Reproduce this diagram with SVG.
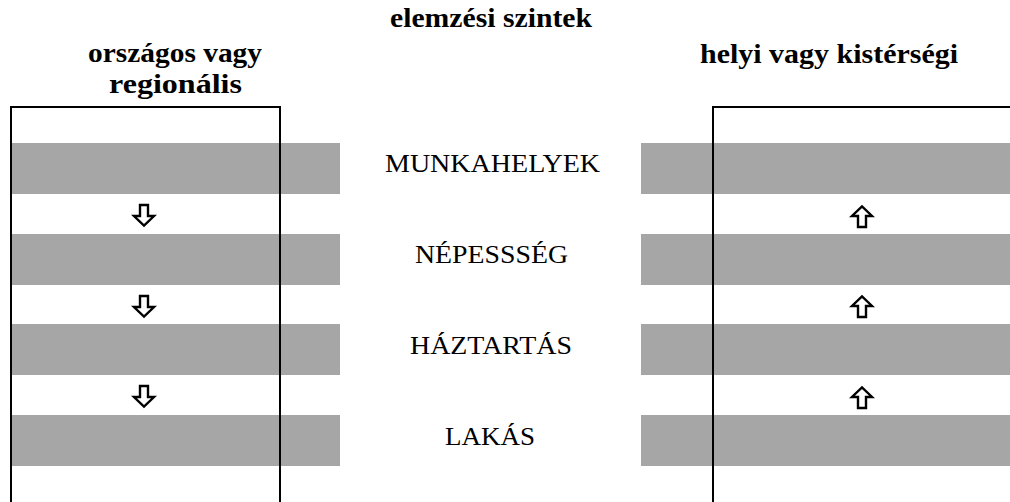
<svg xmlns="http://www.w3.org/2000/svg" width="1010" height="502" viewBox="0 0 1010 502">
<style>
.h{font-family:"Liberation Serif","Times New Roman",serif;font-weight:bold;font-size:27px;fill:#000}
.l{font-family:"Liberation Serif","Times New Roman",serif;font-size:26px;fill:#000}
.band{fill:#a6a6a6}
.box{fill:none;stroke:#000;stroke-width:2}
.arr{fill:#fff;stroke:#000;stroke-width:2.4;stroke-linejoin:miter}
</style>
<defs>
<path id="down" class="arr" d="M-4,-10 L4,-10 L4,1 L10,1 L0,10.5 L-10,1 L-4,1 Z"/>
<path id="up" class="arr" d="M-4,10 L4,10 L4,-1 L10,-1 L0,-10.5 L-10,-1 L-4,-1 Z"/>
</defs>
<rect width="1010" height="502" fill="#fff"/>
<g id="headers">
<text class="h" x="491" y="27" text-anchor="middle" textLength="202" lengthAdjust="spacingAndGlyphs">elemzési szintek</text>
<text class="h" x="175" y="62" text-anchor="middle" textLength="174" lengthAdjust="spacingAndGlyphs">országos vagy</text>
<text class="h" x="175.5" y="93" text-anchor="middle" textLength="133" lengthAdjust="spacingAndGlyphs">regionális</text>
<text class="h" x="829" y="63" text-anchor="middle" textLength="258" lengthAdjust="spacingAndGlyphs">helyi vagy kistérségi</text>
</g>
<g id="bands">
<rect class="band" x="10" y="143" width="330" height="51"/>
<rect class="band" x="10" y="234" width="330" height="51"/>
<rect class="band" x="10" y="324" width="330" height="51"/>
<rect class="band" x="10" y="415" width="330" height="51"/>
<rect class="band" x="641" y="143" width="369" height="51"/>
<rect class="band" x="641" y="234" width="369" height="51"/>
<rect class="band" x="641" y="324" width="369" height="51"/>
<rect class="band" x="641" y="415" width="369" height="51"/>
</g>
<g id="left-box">
<path class="box" d="M11,503 L11,107 L280,107 L280,503"/>
</g>
<g id="right-box">
<path class="box" d="M713,503 L713,107 L1011,107"/>
</g>
<g id="labels">
<text id="munkahelyek" class="l" x="492.5" y="172" text-anchor="middle" textLength="215" lengthAdjust="spacingAndGlyphs">MUNKAHELYEK</text>
<text id="nepesseg" class="l" x="491.5" y="263" text-anchor="middle" textLength="153" lengthAdjust="spacingAndGlyphs">NÉPESSSÉG</text>
<text id="haztartas" class="l" x="491" y="354" text-anchor="middle" textLength="162" lengthAdjust="spacingAndGlyphs">HÁZTARTÁS</text>
<text id="lakas" class="l" x="490" y="445" text-anchor="middle" textLength="90" lengthAdjust="spacingAndGlyphs">LAKÁS</text>
</g>
<g id="connectors">
<use href="#down" x="144" y="215"/>
<use href="#down" x="144" y="306"/>
<use href="#down" x="144" y="396"/>
<use href="#up" x="862" y="217"/>
<use href="#up" x="862" y="307"/>
<use href="#up" x="862" y="398"/>
</g>
</svg>
